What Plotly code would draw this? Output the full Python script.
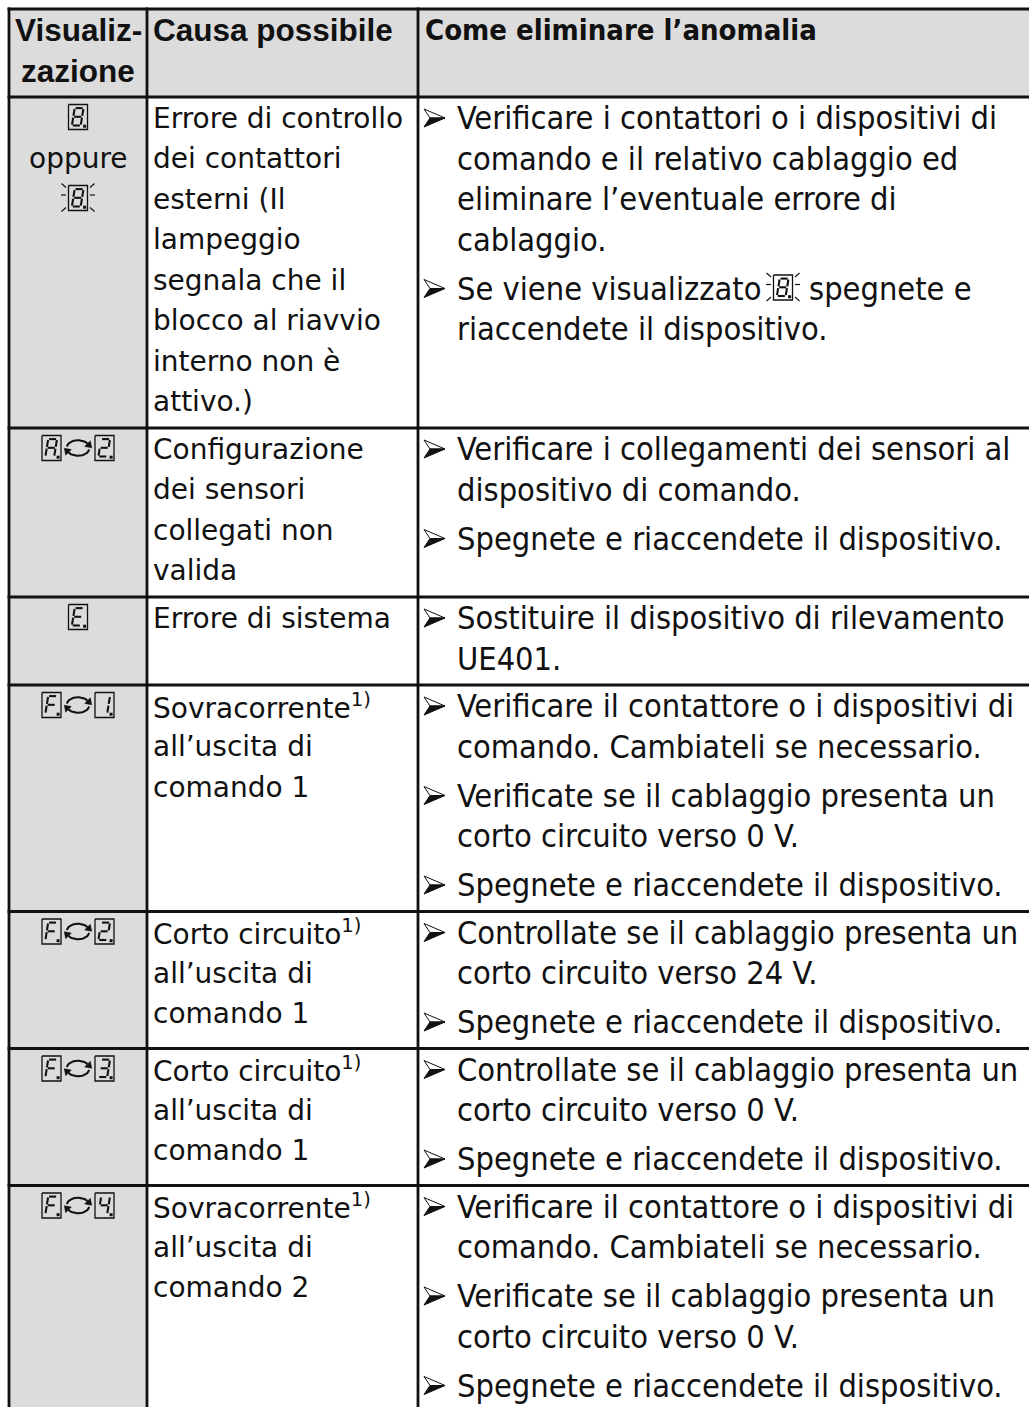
import numpy as np
import plotly.graph_objects as go

W, H = 1029, 1407

# ---------------- content ----------------
header_display = ["Visualiz-", "zazione"]
header_cause = "Causa possibile"
header_remedy = "Come eliminare l’anomalia"

# display column: codes ("A>2" = alternating A / 2, "*8" = flashing 8) or plain words
display_items = [
    ["8", "oppure", "*8"],
    ["A>2"],
    ["E"],
    ["F>1"],
    ["F>2"],
    ["F>3"],
    ["F>4"],
]

cause_lines = [
    ["Errore di controllo", "dei contattori", "esterni (Il", "lampeggio",
     "segnala che il", "blocco al riavvio", "interno non è", "attivo.)"],
    ["Configurazione", "dei sensori", "collegati non", "valida"],
    ["Errore di sistema"],
    ["Sovracorrente<sup>1)</sup>", "all’uscita di", "comando 1"],
    ["Corto circuito<sup>1)</sup>", "all’uscita di", "comando 1"],
    ["Corto circuito<sup>1)</sup>", "all’uscita di", "comando 1"],
    ["Sovracorrente<sup>1)</sup>", "all’uscita di", "comando 2"],
]

remedy_bullets = [
    [["Verificare i contattori o i dispositivi di", "comando e il relativo cablaggio ed",
      "eliminare l’eventuale errore di", "cablaggio."],
     ["Se viene visualizzato {*8} spegnete e", "riaccendete il dispositivo."]],
    [["Verificare i collegamenti dei sensori al", "dispositivo di comando."],
     ["Spegnete e riaccendete il dispositivo."]],
    [["Sostituire il dispositivo di rilevamento", "UE401."]],
    [["Verificare il contattore o i dispositivi di", "comando. Cambiateli se necessario."],
     ["Verificate se il cablaggio presenta un", "corto circuito verso 0 V."],
     ["Spegnete e riaccendete il dispositivo."]],
    [["Controllate se il cablaggio presenta un", "corto circuito verso 24 V."],
     ["Spegnete e riaccendete il dispositivo."]],
    [["Controllate se il cablaggio presenta un", "corto circuito verso 0 V."],
     ["Spegnete e riaccendete il dispositivo."]],
    [["Verificare il contattore o i dispositivi di", "comando. Cambiateli se necessario."],
     ["Verificate se il cablaggio presenta un", "corto circuito verso 0 V."],
     ["Spegnete e riaccendete il dispositivo."]],
]

# ---------------- layout constants ----------------
COL_X = [9, 147, 418, W + 20]
TOP = 9
LH = 40.5        # line pitch
BG = 8.5         # extra gap between bullets
PAD = 7
FIRST = 21       # first line centre below row top
GRAY = "#dcdcdc"
INK = "#111111"
BORDER_W = 2.8

F_HEAD = "Liberation Sans, Arial, sans-serif"
F_HEAD3 = "DejaVu Sans Condensed, Liberation Sans Narrow, sans-serif"
F_C2 = "DejaVu Sans, sans-serif"
F_C3 = "DejaVu Sans Condensed, Liberation Sans Narrow, sans-serif"
S_HEAD, S_HEAD3, S_C2, S_C3 = 31.5, 29, 28, 32.3

BOX_W, BOX_H = 19, 25
ARW = 30

SEGS = {'a': ((0, 0), (1, 0)), 'b': ((1, 0), (1, .5)), 'c': ((1, .5), (1, 1)),
        'd': ((0, 1), (1, 1)), 'e': ((0, .5), (0, 1)), 'f': ((0, 0), (0, .5)),
        'g': ((0, .5), (1, .5))}
DIGITS = {'8': 'abcdefg', 'A': 'abcefg', '2': 'abdeg', 'E': 'adefg', 'F': 'aefg',
          '1': 'bc', '3': 'abcdg', '4': 'bcfg'}

# ---------------- row geometry ----------------
header_h = len(header_display) * LH + PAD
row_h = []
for d, c, r in zip(display_items, cause_lines, remedy_bullets):
    n3 = sum(len(b) for b in r) * LH + (len(r) - 1) * BG
    n2 = len(c) * LH
    n1 = len(d) * LH
    row_h.append(max(n1, n2, n3) + PAD)
row_top = [TOP + header_h]
for h in row_h:
    row_top.append(row_top[-1] + h)

# ---------------- drawing helpers ----------------
seg_x, seg_y = [], []
box_x, box_y = [], []
dot_x, dot_y = [], []
arc_x, arc_y = [], []
tri_x, tri_y = [], []
ray_x, ray_y = [], []
bul_up_x, bul_up_y = [], []
bul_dn_x, bul_dn_y = [], []
annotations = []


def add_text(x, y, text, family, size, anchor="left", bold=False):
    annotations.append(dict(
        x=x, y=y, xref="x", yref="y", text=text,
        showarrow=False, xanchor=anchor, yanchor="middle",
        font=dict(family=family, size=size, color=INK, weight=700 if bold else 400)))


def add_digit(ch, bx, by):
    box_x.extend([bx, bx + BOX_W, bx + BOX_W, bx, bx, None])
    box_y.extend([by, by, by + BOX_H, by + BOX_H, by, None])
    sx0, sw, sy0, sh, sl = bx + 3.4, 8.8, by + 3.6, BOX_H - 7.6, 2.8
    for s in DIGITS[ch]:
        (u0, v0), (u1, v1) = SEGS[s]
        p0 = (sx0 + u0 * sw + (1 - v0) * sl, sy0 + v0 * sh)
        p1 = (sx0 + u1 * sw + (1 - v1) * sl, sy0 + v1 * sh)
        k = 0.1
        q0 = (p0[0] + (p1[0] - p0[0]) * k, p0[1] + (p1[1] - p0[1]) * k)
        q1 = (p1[0] - (p1[0] - p0[0]) * k, p1[1] - (p1[1] - p0[1]) * k)
        seg_x.extend([q0[0], q1[0], None])
        seg_y.extend([q0[1], q1[1], None])
    dot_x.append(bx + BOX_W - 2.9)
    dot_y.append(by + BOX_H - 3.3)


def add_rays(bx, by):
    cy = by + BOX_H / 2
    for sgn, x0 in ((-1, bx - 2.5), (1, bx + BOX_W + 2.5)):
        ray_x.extend([x0, x0 + sgn * 5, None, x0, x0 + sgn * 4.5, None, x0, x0 + sgn * 4.5, None])
        ray_y.extend([cy - 3, cy - 3, None, by + 2, by - 2, None, by + BOX_H - 3, by + BOX_H + 1, None])


def add_arrow(cx, cy):
    rx, ry = 11.5, 7.8
    for t0, t1 in ((np.pi + 0.2, 2 * np.pi - 0.6), (0.2, np.pi - 0.6)):
        t = np.linspace(t0, t1, 25)
        arc_x.extend(list(cx + rx * np.cos(t)) + [None])
        arc_y.extend(list(cy + ry * np.sin(t)) + [None])
        px, py = cx + rx * np.cos(t1), cy + ry * np.sin(t1)
        dx, dy = -rx * np.sin(t1), ry * np.cos(t1)
        n = np.hypot(dx, dy)
        dx, dy = dx / n, dy / n
        nx, ny = -dy, dx
        tri_x.extend([px + dx * 6, px + nx * 4, px - nx * 4, px + dx * 6, None])
        tri_y.extend([py + dy * 6, py + ny * 4, py - ny * 4, py + dy * 6, None])


def add_code(code, cx, cy):
    flash = code.startswith("*")
    code = code.lstrip("*")
    by = cy - BOX_H / 2
    if ">" in code:
        a, b = code.split(">")
        total = 2 * BOX_W + ARW + 4
        x0 = cx - total / 2
        add_digit(a, x0, by)
        add_arrow(x0 + BOX_W + 2 + ARW / 2, cy)
        add_digit(b, x0 + BOX_W + ARW + 4, by)
    else:
        add_digit(code, cx - BOX_W / 2, by)
        if flash:
            add_rays(cx - BOX_W / 2, by)


def add_bullet(x0, yc):
    bul_up_x.extend([x0, x0 + 21, x0 + 6, x0, None])
    bul_up_y.extend([yc - 9, yc, yc, yc - 9, None])
    bul_dn_x.extend([x0 + 6, x0 + 21, x0, x0 + 6, None])
    bul_dn_y.extend([yc, yc, yc + 9, yc, None])


def is_code(s):
    return all(ch in "*>0123456789ABCDEFH" for ch in s)


# ---------------- header ----------------
c1 = (COL_X[0] + COL_X[1]) / 2
for i, t in enumerate(header_display):
    add_text(c1, TOP + FIRST + i * LH, t, F_HEAD, S_HEAD, anchor="center", bold=True)
add_text(COL_X[1] + 4, TOP + FIRST, header_cause, F_HEAD, S_HEAD, bold=True)
add_text(COL_X[2] + 5, TOP + FIRST, header_remedy, F_HEAD3, S_HEAD3, bold=True)

# ---------------- body ----------------
INLINE_ICON_X = 783
INLINE_AFTER_X = 807
for r in range(len(display_items)):
    top = row_top[r]
    for i, item in enumerate(display_items[r]):
        y = top + FIRST + i * LH - 1
        if is_code(item):
            add_code(item, c1, y)
        else:
            add_text(c1, y + 1, item, F_C2, S_C2, anchor="center")
    for i, line in enumerate(cause_lines[r]):
        add_text(COL_X[1] + 4, top + FIRST + i * LH, line, F_C2, S_C2)
    k = 0
    for b, bullet in enumerate(remedy_bullets[r]):
        for j, line in enumerate(bullet):
            y = top + FIRST + k * LH + b * BG
            if j == 0:
                add_bullet(COL_X[2] + 6, y)
            if "{" in line:
                pre, rest = line.split("{")
                code, post = rest.split("}")
                add_text(COL_X[2] + 37, y, pre.strip(), F_C3, S_C3)
                add_code(code, INLINE_ICON_X, y - 1)
                add_text(INLINE_AFTER_X, y, post.strip(), F_C3, S_C3)
            else:
                add_text(COL_X[2] + 37, y, line, F_C3, S_C3)
            k += 1

# ---------------- figure ----------------
fig = go.Figure()
fig.add_trace(go.Scatter(x=box_x, y=box_y, mode="lines", line=dict(color=INK, width=1.3), hoverinfo="skip"))
fig.add_trace(go.Scatter(x=seg_x, y=seg_y, mode="lines", line=dict(color=INK, width=2.1), hoverinfo="skip"))
fig.add_trace(go.Scatter(x=dot_x, y=dot_y, mode="markers", marker=dict(symbol="square", size=3, color=INK), hoverinfo="skip"))
fig.add_trace(go.Scatter(x=arc_x, y=arc_y, mode="lines", line=dict(color=INK, width=2.1), hoverinfo="skip"))
fig.add_trace(go.Scatter(x=tri_x, y=tri_y, mode="lines", fill="toself", fillcolor=INK, line=dict(color=INK, width=0.5), hoverinfo="skip"))
fig.add_trace(go.Scatter(x=ray_x, y=ray_y, mode="lines", line=dict(color=INK, width=1.2), hoverinfo="skip"))
fig.add_trace(go.Scatter(x=bul_up_x, y=bul_up_y, mode="lines", fill="toself", fillcolor="white", line=dict(color=INK, width=1), hoverinfo="skip"))
fig.add_trace(go.Scatter(x=bul_dn_x, y=bul_dn_y, mode="lines", fill="toself", fillcolor=INK, line=dict(color=INK, width=1), hoverinfo="skip"))

shapes = []
bottom = H + 20
shapes.append(dict(type="rect", x0=COL_X[0], x1=COL_X[3], y0=TOP, y1=TOP + header_h,
                   fillcolor=GRAY, line=dict(width=0), layer="below"))
shapes.append(dict(type="rect", x0=COL_X[0], x1=COL_X[1], y0=TOP + header_h, y1=bottom,
                   fillcolor=GRAY, line=dict(width=0), layer="below"))
for yy in [TOP] + row_top[:-1]:
    shapes.append(dict(type="line", x0=COL_X[0] - 1.4, x1=COL_X[3], y0=yy, y1=yy,
                       line=dict(color=INK, width=BORDER_W), layer="above"))
for xx in COL_X[:3]:
    shapes.append(dict(type="line", x0=xx, x1=xx, y0=TOP - 1.4, y1=bottom,
                       line=dict(color=INK, width=BORDER_W), layer="above"))

fig.update_layout(
    width=W, height=H, margin=dict(l=0, r=0, t=0, b=0),
    paper_bgcolor="white", plot_bgcolor="white", showlegend=False,
    xaxis=dict(range=[0, W], visible=False, fixedrange=True),
    yaxis=dict(range=[H, 0], visible=False, fixedrange=True),
    shapes=shapes, annotations=annotations,
)
fig.write_html("out.html", config={"displayModeBar": False},
               post_script="document.body.style.margin='0';document.body.style.overflow='hidden';")
